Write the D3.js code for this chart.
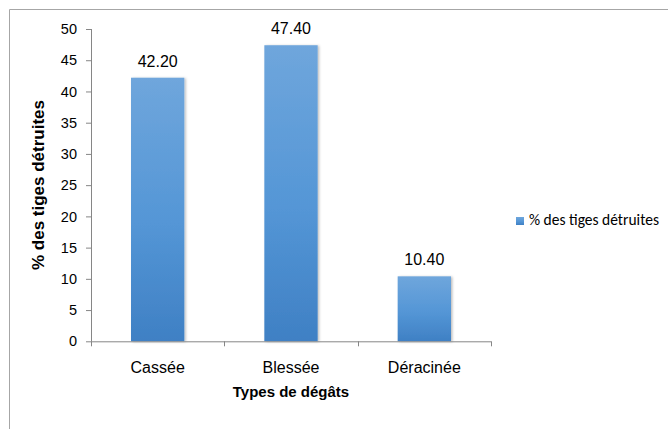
<!DOCTYPE html>
<html>
<head>
<meta charset="utf-8">
<script src="https://cdn.jsdelivr.net/npm/d3@7"></script>
<style>
  body { margin: 0; background: #fff; }
  svg { display: block; font-family: "Liberation Sans", Arial, sans-serif; }
</style>
</head>
<body>
<div id="chart"></div>
<script>
// data
const categories = ["Cassée", "Blessée", "Déracinée"];
const values = [42.2, 47.4, 10.4];
const yTicks = [0, 5, 10, 15, 20, 25, 30, 35, 40, 45, 50];
const seriesName = "% des tiges détruites";
const xTitle = "Types de dégâts";
const yTitle = "% des tiges détruites";

const W = 668, H = 429;
const plot = {left: 91, right: 491, top: 29, bottom: 341.3};

const svg = d3.select("#chart")
  .append("svg")
  .attr("width", W)
  .attr("height", H);

const defs = svg.append("defs");
const grad = defs.append("linearGradient")
  .attr("id", "barGrad")
  .attr("x1", 0).attr("y1", 0).attr("x2", 0).attr("y2", 1);
grad.append("stop").attr("offset", "0%").attr("stop-color", "#6fa6dc");
grad.append("stop").attr("offset", "55%").attr("stop-color", "#5496d6");
grad.append("stop").attr("offset", "100%").attr("stop-color", "#3f80c4");

const shadow = defs.append("filter").attr("id", "shadow")
  .attr("x", "-10%").attr("y", "-10%").attr("width", "130%").attr("height", "120%");
shadow.append("feDropShadow")
  .attr("dx", 1.5).attr("dy", 0.5).attr("stdDeviation", 1)
  .attr("flood-color", "#000").attr("flood-opacity", 0.25);

// outer frame (only top and left edges show)
svg.append("path")
  .attr("d", `M9.5,${H} V9.5 H${W}`)
  .attr("fill", "none")
  .attr("stroke", "#a6a6a6")
  .attr("stroke-width", 1);

const x = d3.scaleBand()
  .domain(categories)
  .range([plot.left, plot.right])
  .paddingInner(0.6)
  .paddingOuter(0.3);

const y = d3.scaleLinear()
  .domain([0, 50])
  .range([plot.bottom, plot.top]);

// bars
svg.append("g")
  .selectAll("rect")
  .data(values)
  .enter()
  .append("rect")
  .attr("x", (d, i) => x(categories[i]))
  .attr("width", x.bandwidth())
  .attr("y", d => y(d))
  .attr("height", d => y(0) - y(d))
  .attr("fill", "url(#barGrad)")
  .attr("filter", "url(#shadow)");

// value labels
svg.append("g")
  .selectAll("text")
  .data(values)
  .enter()
  .append("text")
  .attr("x", (d, i) => x(categories[i]) + x.bandwidth() / 2)
  .attr("y", d => y(d) - 11)
  .attr("text-anchor", "middle")
  .attr("font-size", 16)
  .attr("fill", "#000")
  .text(d => d.toFixed(2));

// y axis
const yAxis = d3.axisLeft(y)
  .tickValues(yTicks)
  .tickSize(5)
  .tickPadding(9)
  .tickFormat(d3.format("d"));

const gy = svg.append("g")
  .attr("transform", `translate(${plot.left},0)`)
  .call(yAxis);
gy.select(".domain").attr("stroke", "#868686").attr("d", `M0.5,${plot.top}V${plot.bottom}`);
gy.selectAll(".tick line").attr("stroke", "#868686");
gy.selectAll(".tick text")
  .attr("font-size", 14.5)
  .attr("font-family", "Liberation Sans, Arial, sans-serif")
  .attr("fill", "#000");

// x axis line with boundary ticks
const gx = svg.append("g");
gx.append("line")
  .attr("x1", plot.left).attr("x2", plot.right)
  .attr("y1", plot.bottom + 0.5).attr("y2", plot.bottom + 0.5)
  .attr("stroke", "#868686");
const step = (plot.right - plot.left) / categories.length;
gx.selectAll(".bt")
  .data(d3.range(categories.length + 1))
  .enter()
  .append("line")
  .attr("x1", i => Math.round(plot.left + i * step) + 0.5)
  .attr("x2", i => Math.round(plot.left + i * step) + 0.5)
  .attr("y1", plot.bottom)
  .attr("y2", plot.bottom + 5)
  .attr("stroke", "#868686");

gx.selectAll(".cat")
  .data(categories)
  .enter()
  .append("text")
  .attr("x", d => x(d) + x.bandwidth() / 2)
  .attr("y", 373)
  .attr("text-anchor", "middle")
  .attr("font-size", 16)
  .text(d => d);

// axis titles
svg.append("text")
  .attr("x", (plot.left + plot.right) / 2)
  .attr("y", 397)
  .attr("text-anchor", "middle")
  .attr("font-size", 15)
  .attr("font-weight", "bold")
  .text(xTitle);

svg.append("text")
  .attr("transform", "translate(44,185) rotate(-90)")
  .attr("text-anchor", "middle")
  .attr("font-size", 17)
  .attr("font-weight", "bold")
  .text(yTitle);

// legend
const lg = svg.append("g").attr("transform", "translate(516,217)");
lg.append("rect")
  .attr("width", 8).attr("height", 8)
  .attr("fill", "url(#barGrad)");
lg.append("text")
  .attr("x", 13)
  .attr("y", 7.5)
  .attr("font-family", "Carlito, 'Liberation Sans Narrow', 'Open Sans', sans-serif")
  .attr("font-size", 15.5)
  .text(seriesName);
</script>
</body>
</html>
